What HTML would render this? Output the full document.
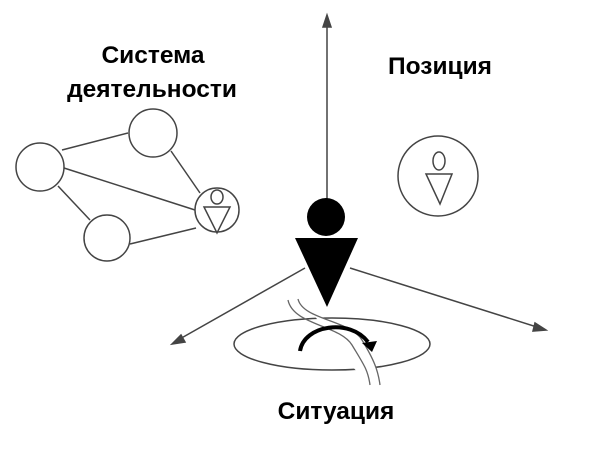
<!DOCTYPE html>
<html><head><style>body{margin:0;background:#fff}svg{display:block}</style></head><body>
<svg width="600" height="449" viewBox="0 0 600 449" xmlns="http://www.w3.org/2000/svg">
<g stroke="#444" stroke-width="1.5" fill="none">
<line x1="327" y1="205" x2="327" y2="22"/>
<polygon points="327,15 323,27 331,27" fill="#444"/>
<line x1="305" y1="268" x2="178" y2="340"/>
<polygon points="172,344 181,335 185,342" fill="#444"/>
<line x1="350" y1="268" x2="540" y2="328"/>
<polygon points="546,330 535,323 533,331" fill="#444"/>
<ellipse cx="332" cy="344" rx="98" ry="26"/>
<line x1="62" y1="150" x2="128" y2="133"/>
<line x1="64" y1="168" x2="195" y2="210"/>
<line x1="58" y1="186" x2="90" y2="220"/>
<line x1="171" y1="151" x2="200" y2="193"/>
<line x1="130" y1="244" x2="196" y2="228"/>
<circle cx="40" cy="167" r="24"/>
<circle cx="153" cy="133" r="24"/>
<circle cx="107" cy="238" r="23"/>
<circle cx="217" cy="210" r="22"/>
<ellipse cx="217" cy="197" rx="6" ry="7"/>
<polygon points="204,207 230,207 217,233"/>
<circle cx="438" cy="176" r="40"/>
<ellipse cx="439" cy="161" rx="6" ry="9"/>
<polygon points="426,174 452,174 440,204"/>
</g>
<path d="M288,300 C293,325 340,325 352,345 S368,370 370,385 M298,299 C303,320 350,320 362,340 S378,370 380,385" stroke="#666" stroke-width="1.3" fill="#fff"/>
<circle cx="326" cy="217" r="19" fill="#000"/>
<polygon points="295,238 358,238 327,307" fill="#000"/>
<path d="M300,351 C304,325 350,318 368,342" stroke="#000" stroke-width="4" fill="none"/>
<polygon points="362,343 377,341 372,352" fill="#000"/>
<g font-family="Liberation Sans, sans-serif" font-weight="bold" font-size="24.5" fill="#000" text-anchor="middle">
<text x="153" y="63">Система</text>
<text x="152" y="97">деятельности</text>
<text x="440" y="74">Позиция</text>
<text x="336" y="419">Ситуация</text>
</g>
</svg>
</body></html>
